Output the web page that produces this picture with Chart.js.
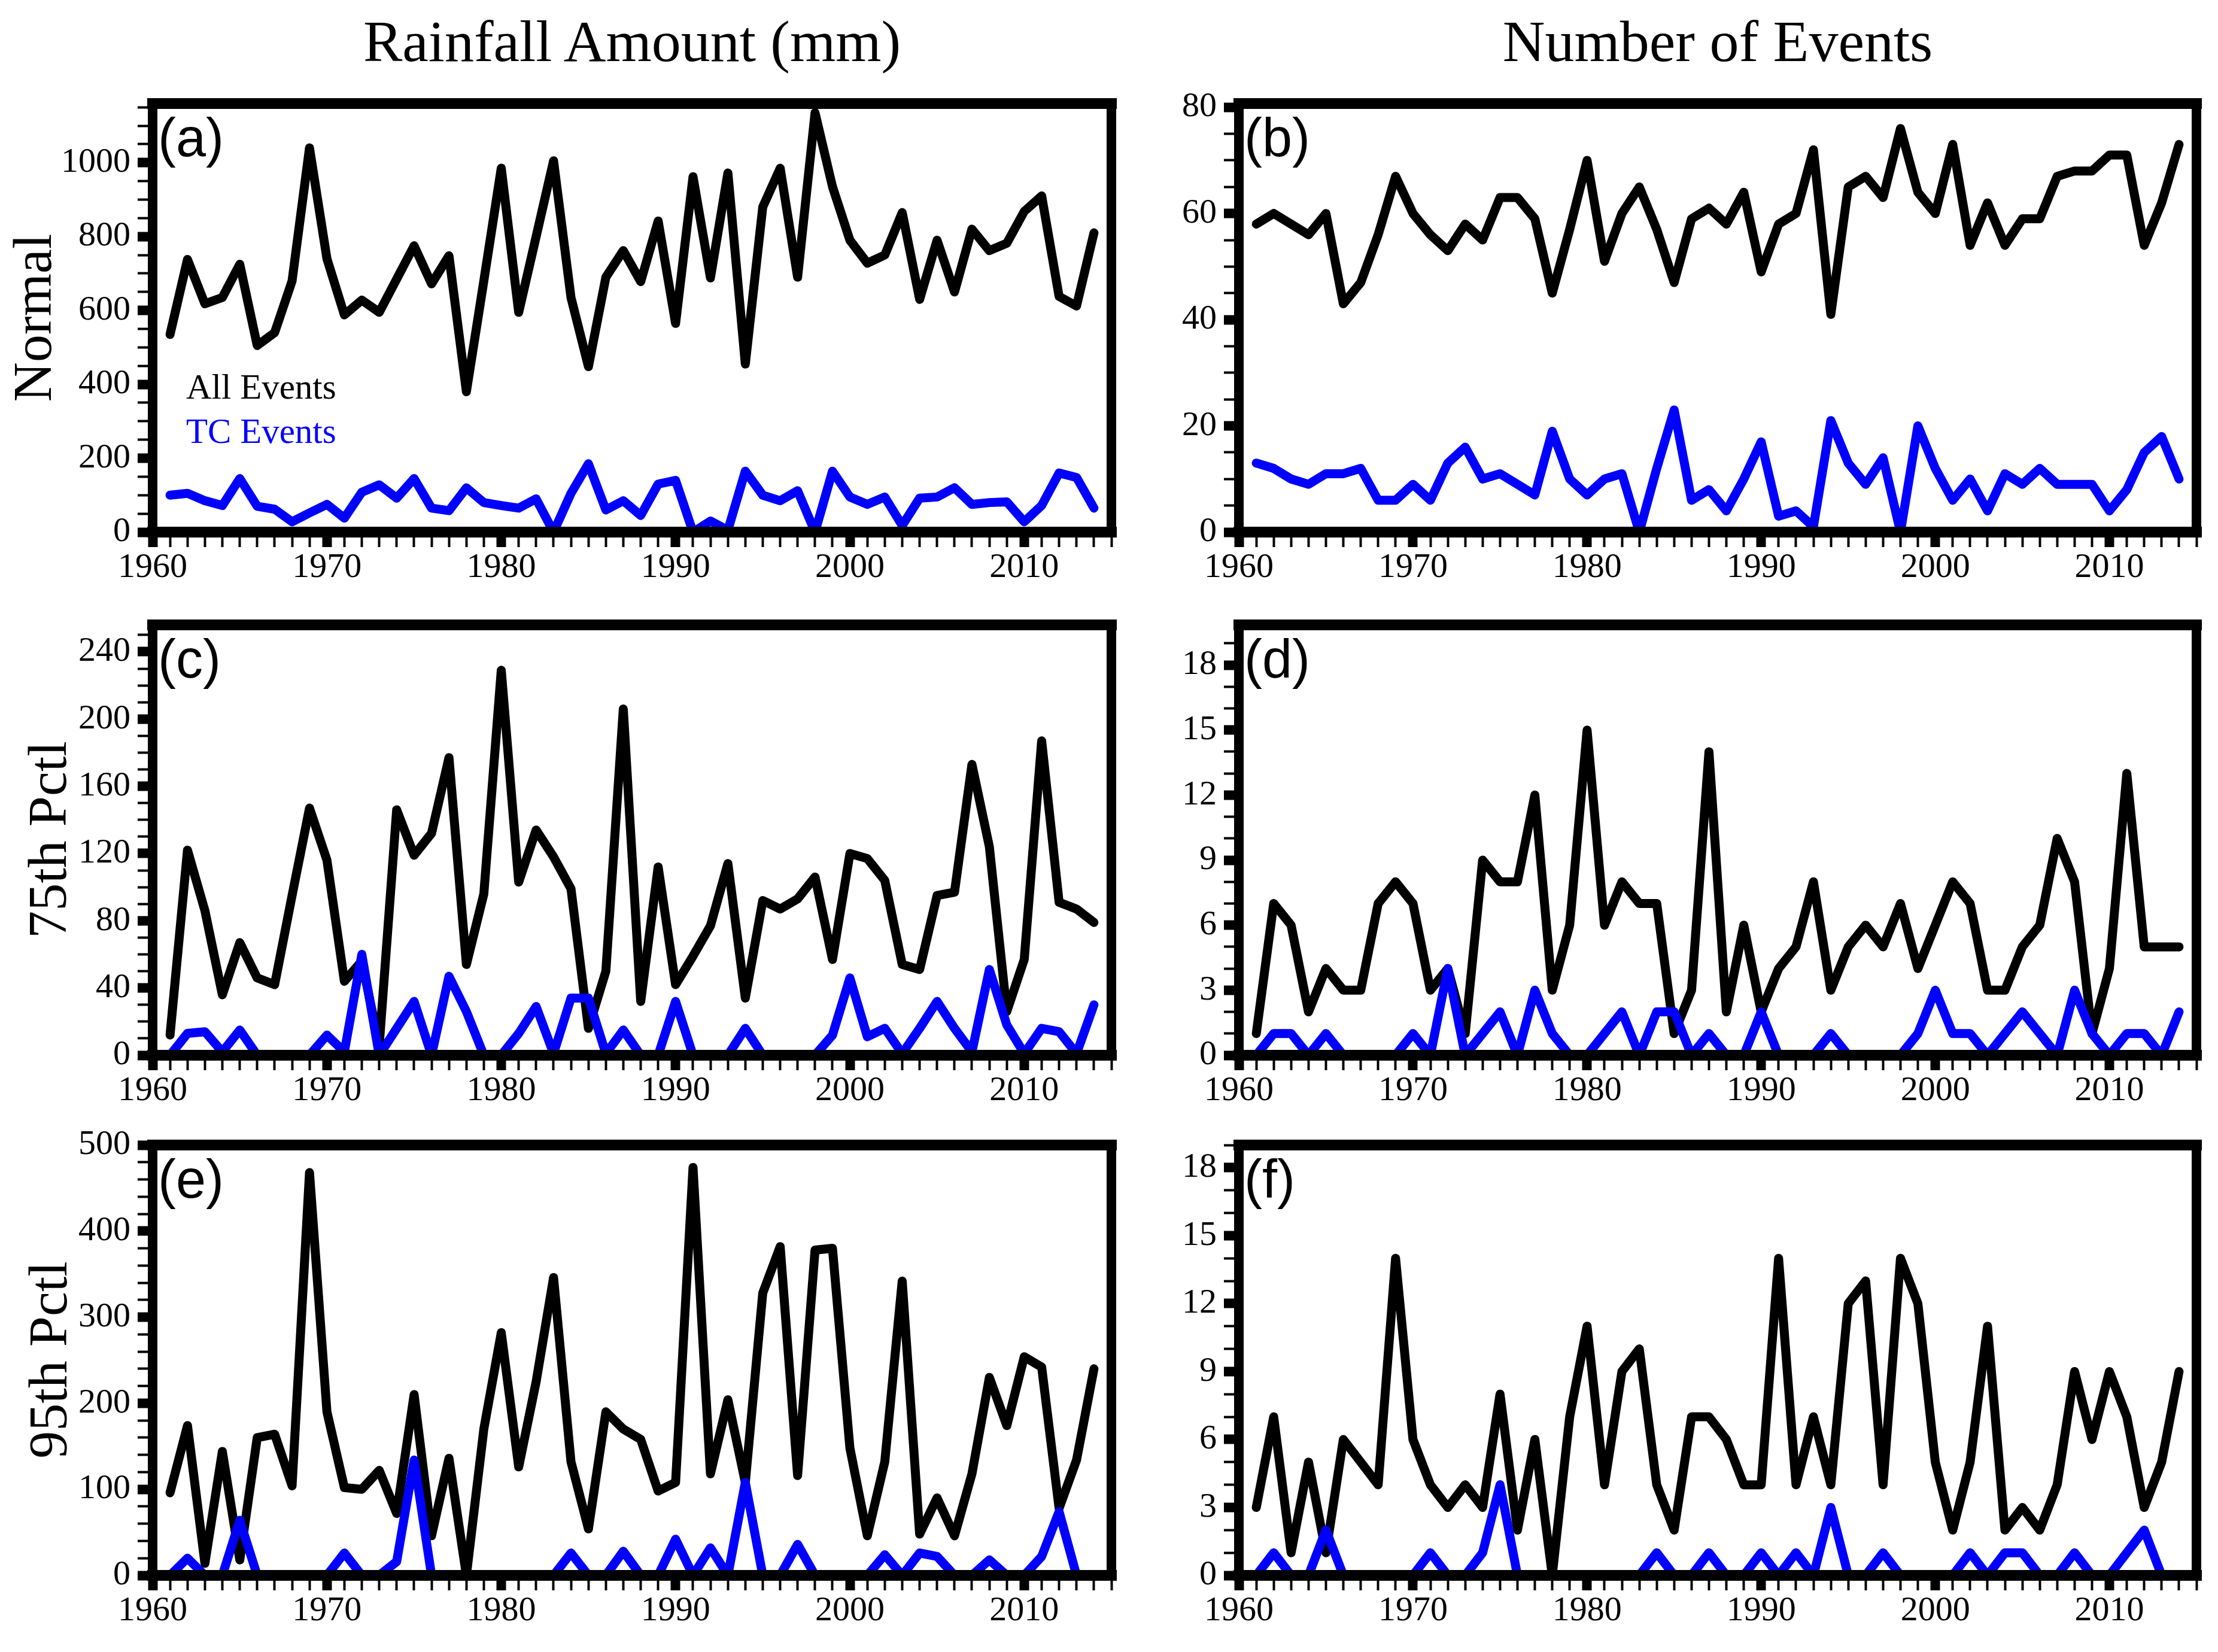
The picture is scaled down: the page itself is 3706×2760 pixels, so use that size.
<!DOCTYPE html>
<html>
<head>
<meta charset="utf-8">
<script src="https://cdn.jsdelivr.net/npm/chart.js@4.4.1/dist/chart.umd.min.js"></script>
<style>
body { margin:0; background:#fff; width:3706px; height:2760px; position:relative; overflow:hidden; font-family:'Liberation Serif', serif; }
canvas { position:absolute; }
.txt { position:absolute; white-space:nowrap; line-height:1; color:#000; }
.col { font-size:98px; width:1400px; text-align:center; top:20px; }
.row { font-size:92px; width:600px; height:92px; text-align:center; transform:rotate(-90deg); }
.tag { font-family:'Liberation Sans', sans-serif; font-size:90px; }
.key { font-size:59px; }
</style>
</head>
<body>
<div class="txt col" style="left:356px">Rainfall Amount (mm)</div>
<div class="txt col" style="left:2170px">Number of Events</div>
<div class="txt row" style="left:-246px;top:485px">Normal</div>
<div class="txt row" style="left:-221px;top:1357px">75th Pctl</div>
<div class="txt row" style="left:-220px;top:2226px">95th Pctl</div>
<div class="txt key" style="left:311px;top:617px">All Events</div>
<div class="txt key" style="left:311px;top:691px;color:#0000ff">TC Events</div>
<script>
// years 1961-2014
let years = [1961,1962,1963,1964,1965,1966,1967,1968,1969,1970,
             1971,1972,1973,1974,1975,1976,1977,1978,1979,1980,
             1981,1982,1983,1984,1985,1986,1987,1988,1989,1990,
             1991,1992,1993,1994,1995,1996,1997,1998,1999,2000,
             2001,2002,2003,2004,2005,2006,2007,2008,2009,2010,
             2011,2012,2013,2014];

// rainfall amount (mm)
let normalAll = [535,738,618,635,725,505,540,680,1040,740, 588,628,595,685,775,672,748,380,680,985,
                 595,800,1005,635,448,690,762,678,842,565, 962,688,972,455,880,985,690,1135,935,790,
                 728,750,865,630,790,650,820,762,782,868, 910,638,612,810];
let normalTC  = [100,105,85,72,145,70,62,28,52,75, 38,108,128,92,145,65,58,120,80,72,
                 65,90,0,105,185,60,85,45,130,140, 0,30,5,165,100,85,112,0,165,95,
                 75,95,18,92,95,120,75,80,82,28, 72,160,148,65];
let p75All    = [12,122,86,36,67,46,42,95,147,116, 44,56,6,146,119,132,177,54,96,229,
                 103,134,118,99,16,50,206,32,112,42, 59,77,114,34,92,87,93,106,57,120,
                 117,104,54,51,95,97,173,124,26,57, 187,91,87,79];
let p75TC     = [0,13,14,2,15,0,0,0,0,12, 2,60,0,16,32,0,47,26,0,0,
                 13,29,1,34,34,1,15,0,0,32, 0,0,0,16,0,0,0,0,12,46,
                 11,16,1,16,32,16,2,51,18,1, 16,14,1,30];
let p95All    = [96,174,14,144,18,160,164,104,468,190, 102,100,122,72,210,46,136,0,170,282,
                 126,225,346,132,54,190,170,158,98,108, 474,118,204,108,328,382,116,378,380,148,
                 46,132,342,48,90,46,118,230,174,254, 242,78,134,240];
let p95TC     = [0,20,0,0,64,0,0,0,0,0, 26,0,0,16,134,0,0,0,0,0,
                 0,0,0,26,0,0,28,0,0,42, 0,32,0,108,0,0,36,0,0,0,
                 0,24,0,26,22,0,0,18,0,0, 22,74,0,0];

// number of events
let normalEvAll = [58,60,58,56,60,43,47,56,67,60, 56,53,58,55,63,63,59,45,57,70,
                   51,60,65,57,47,59,61,58,64,49, 58,60,72,41,65,67,63,76,64,60,
                   73,54,62,54,59,59,67,68,68,71, 71,54,62,73];
let normalEvTC  = [13,12,10,9,11,11,12,6,6,9, 6,13,16,10,11,9,7,19,10,7,
                   10,11,0,12,23,6,8,4,10,17, 3,4,1,21,13,9,14,0,20,12,
                   6,10,4,11,9,12,9,9,9,4, 8,15,18,10];
let p75EvAll    = [1,7,6,2,4,3,3,7,8,7, 3,4,1,9,8,8,12,3,6,15,
                   6,8,7,7,1,3,14,2,6,2, 4,5,8,3,5,6,5,7,4,6,
                   8,7,3,3,5,6,10,8,1,4, 13,5,5,5];
let p75EvTC     = [0,1,1,0,1,0,0,0,0,1, 0,4,0,1,2,0,3,1,0,0,
                   1,2,0,2,2,0,1,0,0,2, 0,0,0,1,0,0,0,0,1,3,
                   1,1,0,1,2,1,0,3,1,0, 1,1,0,2];
let p95EvAll    = [3,7,1,5,1,6,5,4,14,6, 4,3,4,3,8,2,6,0,7,11,
                   4,9,10,4,2,7,7,6,4,4, 14,4,7,4,12,13,4,14,12,5,
                   2,5,11,2,3,2,4,9,6,9, 7,3,5,9];
let p95EvTC     = [0,1,0,0,2,0,0,0,0,0, 1,0,0,1,4,0,0,0,0,0,
                   0,0,0,1,0,0,1,0,0,1, 0,1,0,3,0,0,1,0,0,0,
                   0,1,0,1,1,0,0,1,0,0, 1,2,0,0];

// axis ranges: [min, max, minor step, major step]
let xAxis = [1960, 2015, 1, 10];
let yAxes = {
  a: [0, 1160, 50, 200], b: [0, 80.7, 5, 20],
  c: [0, 256, 10, 40],   d: [0, 19.85, 1, 3],
  e: [0, 500, 20, 100],  f: [0, 19, 1, 3]
};

let serif = "'Liberation Serif', 'Times New Roman', serif";

let panels = [
  {tag:'a', left:255,  top:173,  right:1857, bottom:889,  all:normalAll,   tc:normalTC},
  {tag:'b', left:2070, top:173,  right:3670, bottom:889,  all:normalEvAll, tc:normalEvTC},
  {tag:'c', left:255,  top:1044, right:1857, bottom:1763, all:p75All,      tc:p75TC},
  {tag:'d', left:2070, top:1044, right:3670, bottom:1763, all:p75EvAll,    tc:p75EvTC},
  {tag:'e', left:255,  top:1913, right:1857, bottom:2632, all:p95All,      tc:p95TC},
  {tag:'f', left:2070, top:1913, right:3670, bottom:2632, all:p95EvAll,    tc:p95EvTC}
];

function toPoints(vals) {
  return vals.map((v, i) => ({x: years[i], y: v}));
}

function onStep(v, step) {
  return Math.abs(v / step - Math.round(v / step)) < 1e-6;
}

function axis(range, pad, size, horizontal) {
  let [min, max, step, major] = range;
  return {
    type: 'linear', min: min, max: max,
    // one tick per minor step, nothing at a max that is off the step
    afterBuildTicks: s => {
      let ticks = [];
      for (let k = Math.ceil(min / step); k * step <= max + 1e-9; k++) {
        ticks.push({value: +(k * step).toFixed(6)});
      }
      s.ticks = ticks;
    },
    afterFit: s => { if (horizontal) s.height = size; else s.width = size; },
    border: { display: false },
    grid: {
      drawOnChartArea: false, drawTicks: true, tickLength: 25, tickColor: '#000',
      tickWidth: c => (c.tick && onStep(c.tick.value, major)) ? 16 : 4
    },
    ticks: {
      stepSize: step, autoSkip: false, maxRotation: 0, minRotation: 0, maxTicksLimit: 1000,
      padding: pad, color: '#000', font: { family: serif, size: 58 },
      callback: v => onStep(v, major) ? String(v) : ''
    }
  };
}

// thick box round the plot area, drawn over the lines
let frame = {
  id: 'frame',
  afterDatasetsDraw(chart) {
    let ctx = chart.ctx, a = chart.chartArea;
    ctx.save();
    ctx.strokeStyle = '#000';
    ctx.lineCap = 'square';
    ctx.lineWidth = 16;
    ctx.beginPath();
    ctx.moveTo(a.left, a.top); ctx.lineTo(a.left, a.bottom);
    ctx.moveTo(a.right, a.top); ctx.lineTo(a.right, a.bottom);
    ctx.stroke();
    ctx.lineWidth = 18;
    ctx.beginPath();
    ctx.moveTo(a.left, a.top); ctx.lineTo(a.right, a.top);
    ctx.moveTo(a.left, a.bottom); ctx.lineTo(a.right, a.bottom);
    ctx.stroke();
    ctx.restore();
  }
};

Chart.defaults.font.family = serif;

panels.forEach(p => {
  let w = p.right - p.left + 260, h = p.bottom - p.top + 160;
  let canvas = document.createElement('canvas');
  canvas.width = w; canvas.height = h;
  canvas.style.left = (p.left - 240) + 'px';
  canvas.style.top = (p.top - 50) + 'px';
  canvas.style.width = w + 'px';
  canvas.style.height = h + 'px';
  document.body.appendChild(canvas);

  let tag = document.createElement('div');
  tag.className = 'txt tag';
  tag.style.left = (p.left + 9) + 'px';
  tag.style.top = (p.top + 12) + 'px';
  tag.textContent = '(' + p.tag + ')';
  document.body.appendChild(tag);

  new Chart(canvas, {
    type: 'line',
    data: {
      datasets: [
        { label: 'TC Events', data: toPoints(p.tc), borderColor: '#0000ff', order: 1 },
        { label: 'All Events', data: toPoints(p.all), borderColor: '#000000', order: 2 }
      ]
    },
    options: {
      responsive: false, animation: false, devicePixelRatio: 1,
      layout: { padding: { left: 0, top: 50, right: 20, bottom: 0 } },
      elements: {
        line: { borderWidth: 15, tension: 0, borderJoinStyle: 'round', borderCapStyle: 'round', fill: false },
        point: { radius: 0 }
      },
      plugins: { legend: { display: false }, tooltip: { enabled: false } },
      scales: {
        x: axis(xAxis, 0, 110, true),
        y: axis(yAxes[p.tag], 12, 240, false)
      }
    },
    plugins: [frame]
  });
});
</script>
</body>
</html>
